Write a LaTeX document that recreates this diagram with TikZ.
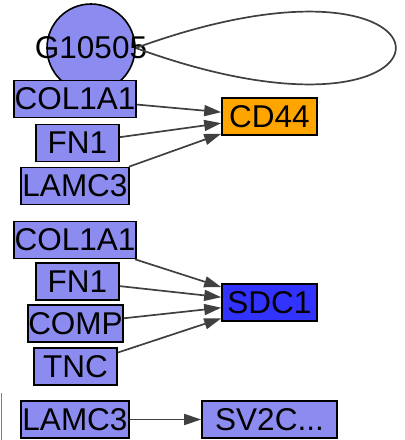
\documentclass[tikz,border=0pt]{standalone}
\usepackage{fontspec}
\setmainfont{Liberation Sans}
\usetikzlibrary{arrows.meta}
\definecolor{genefill}{RGB}{140,140,240}
\definecolor{hubA}{RGB}{255,165,0}
\definecolor{hubB}{RGB}{51,51,255}
\definecolor{edgegray}{RGB}{64,64,64}
\begin{document}
\begin{tikzpicture}[x=1pt,y=-1pt,
    gene/.style={draw=black, line width=1.6pt, fill=genefill, rectangle, inner sep=0pt,
      minimum height=37pt, font=\fontsize{31.5}{34}\selectfont},
    link/.style={draw=edgegray, line width=1.7pt, -{Triangle[length=17pt,width=11pt]}}]
    \useasboundingbox (0,0) rectangle (405,440);

    % kolo zverhu
    \node[circle, draw=black, line width=1.6pt, fill=genefill, minimum size=88pt, inner sep=0pt,
      label={[font=\fontsize{31.5}{34}\selectfont]center:G10505}] (g) at (91,48) {};
    \draw[edgegray, line width=1.7pt] (g.east) to[out=20,in=-20,distance=369pt] (g.east);

    % persha grupa -> CD44
    \node[gene, minimum width=122pt] (colA) at (75,99) {COL1A1};
    \node[gene, minimum width=83pt] (fnA) at (77.5,143) {FN1};
    \node[gene, minimum width=108pt] (lamA) at (75,186) {LAMC3};
    \node[gene, fill=hubA, minimum width=95pt] (cd) at (269.5,116.5) {CD44};

    \draw[link] (colA) -- (cd);
    \draw[link] (fnA) -- (cd);
    \draw[link] (lamA) -- (cd);

    % druga grupa -> SDC1
    \node[gene, minimum width=122pt] (colB) at (75,240) {COL1A1};
    \node[gene, minimum width=83pt] (fnB) at (77.5,281.5) {FN1};
    \node[gene, minimum width=95pt] (comp) at (75.5,323.5) {COMP};
    \node[gene, minimum width=83pt] (tnc) at (75.5,366.5) {TNC};
    \node[gene, fill=hubB, minimum width=95pt] (sdc) at (269.5,302.5) {SDC1};

    \draw[link] (colB) -- (sdc);
    \draw[link] (fnB) -- (sdc);
    \draw[link] (comp) -- (sdc);
    \draw[link] (tnc) -- (sdc);

    % nyzhnia para
    \node[gene, minimum width=108pt] (lamB) at (75,419.5) {LAMC3};
    \node[gene, minimum width=135pt] (sv) at (269.5,419.5) {SV2C...};
    \draw[link] (lamB) -- (sv);

    \draw[gray, line width=1pt] (1,393) -- (1,440);
\end{tikzpicture}
\end{document}
